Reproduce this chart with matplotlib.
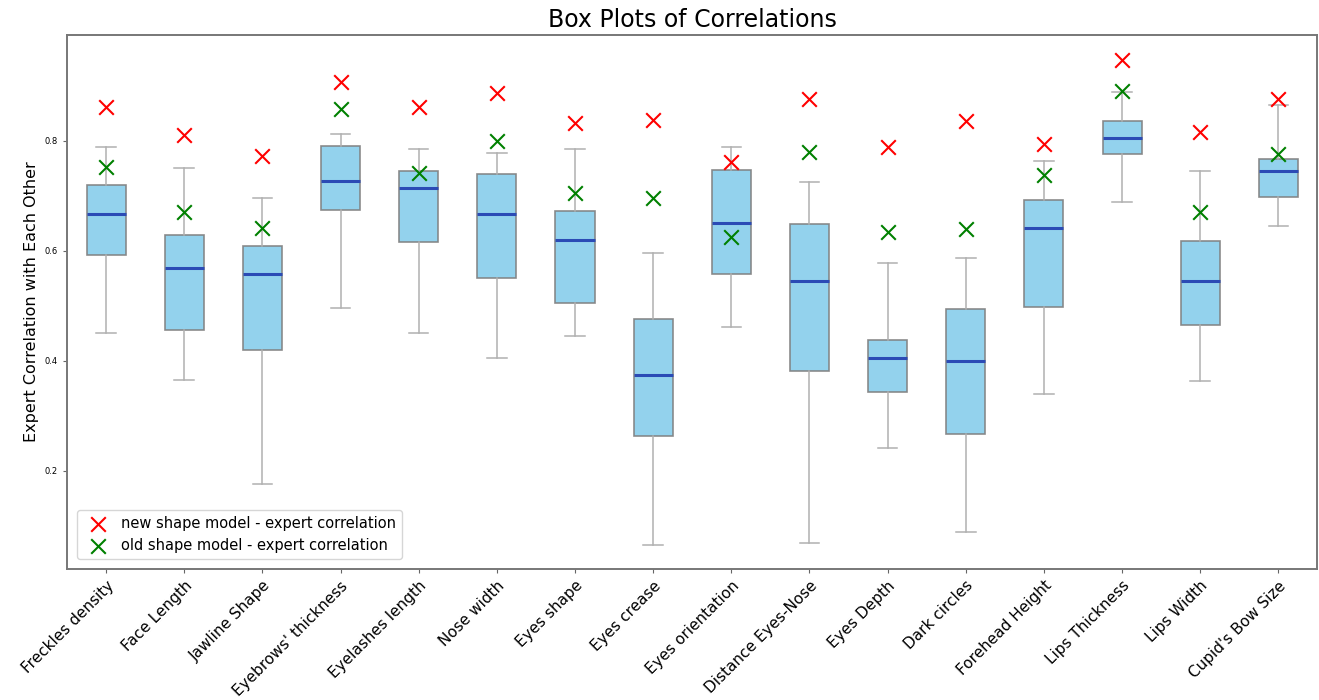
import matplotlib
matplotlib.use("Agg")
import matplotlib.pyplot as plt

features = ["Freckles density", "Face Length", "Jawline Shape", "Eyebrows' thickness",
            "Eyelashes length", "Nose width", "Eyes shape", "Eyes crease",
            "Eyes orientation", "Distance Eyes-Nose", "Eyes Depth", "Dark circles",
            "Forehead Height", "Lips Thickness", "Lips Width", "Cupid's Bow Size"]

# box statistics
whis_low = [0.450, 0.364, 0.176, 0.495, 0.450, 0.405, 0.444, 0.064,
            0.462, 0.068, 0.241, 0.089, 0.340, 0.688, 0.363, 0.644]
q1 = [0.592, 0.455, 0.419, 0.673, 0.615, 0.550, 0.504, 0.263,
      0.558, 0.382, 0.343, 0.267, 0.498, 0.776, 0.465, 0.698]
median = [0.667, 0.568, 0.558, 0.727, 0.713, 0.667, 0.620, 0.373,
          0.651, 0.545, 0.404, 0.399, 0.641, 0.805, 0.545, 0.745]
q3 = [0.719, 0.628, 0.609, 0.791, 0.744, 0.739, 0.672, 0.475,
      0.747, 0.649, 0.438, 0.494, 0.692, 0.835, 0.617, 0.767]
whis_high = [0.789, 0.750, 0.695, 0.812, 0.784, 0.778, 0.784, 0.596,
             0.789, 0.724, 0.578, 0.586, 0.763, 0.889, 0.745, 0.864]

new_model = [0.861, 0.810, 0.772, 0.906, 0.861, 0.886, 0.832, 0.838,
             0.761, 0.876, 0.789, 0.836, 0.793, 0.947, 0.815, 0.876]
old_model = [0.752, 0.670, 0.641, 0.857, 0.741, 0.799, 0.705, 0.695,
             0.624, 0.779, 0.633, 0.640, 0.738, 0.891, 0.671, 0.775]

stats = []
for i, name in enumerate(features):
    stats.append({"label": name, "whislo": whis_low[i], "q1": q1[i], "med": median[i],
                  "q3": q3[i], "whishi": whis_high[i], "fliers": []})

fig = plt.figure(figsize=(13.19, 7), dpi=100)
ax = fig.add_axes([0.0508, 0.187, 0.948, 0.763])

positions = list(range(1, len(features) + 1))
ax.bxp(stats, positions=positions, widths=0.5, patch_artist=True, showfliers=False,
       boxprops=dict(facecolor="skyblue", edgecolor="#808080", alpha=0.9, linewidth=1.2),
       medianprops=dict(color="#2B4BB5", linewidth=2.2),
       whiskerprops=dict(color="#b0b0b0", linewidth=1.1),
       capprops=dict(color="#b0b0b0", linewidth=1.1))

ax.scatter(positions, new_model, marker="x", color="red", s=110, linewidths=1.5,
           label="new shape model - expert correlation", zorder=3)
ax.scatter(positions, old_model, marker="x", color="green", s=110, linewidths=1.5,
           label="old shape model - expert correlation", zorder=3)

ax.set_xlim(0.5, 16.5)
ax.set_ylim(0.021, 0.992)
ax.set_yticks([0.2, 0.4, 0.6, 0.8])
ax.set_yticklabels(["0.2", "0.4", "0.6", "0.8"], fontsize=6)
ax.set_xticks(positions)
ax.set_xticklabels(features, rotation=45, ha="right", rotation_mode="anchor", fontsize=11)
ax.tick_params(axis="x", length=3, color="#666666")
ax.tick_params(axis="y", length=3, color="#666666")
for sp in ax.spines.values():
    sp.set_color("#777777")
    sp.set_linewidth(1.4)

ax.set_ylabel("Expert Correlation with Each Other", fontsize=11.5)
ax.set_title("Box Plots of Correlations", fontsize=17)
ax.legend(loc="lower left", fontsize=10.5, borderaxespad=0.7, handletextpad=0.6)

fig.savefig("out.png", dpi=100)
